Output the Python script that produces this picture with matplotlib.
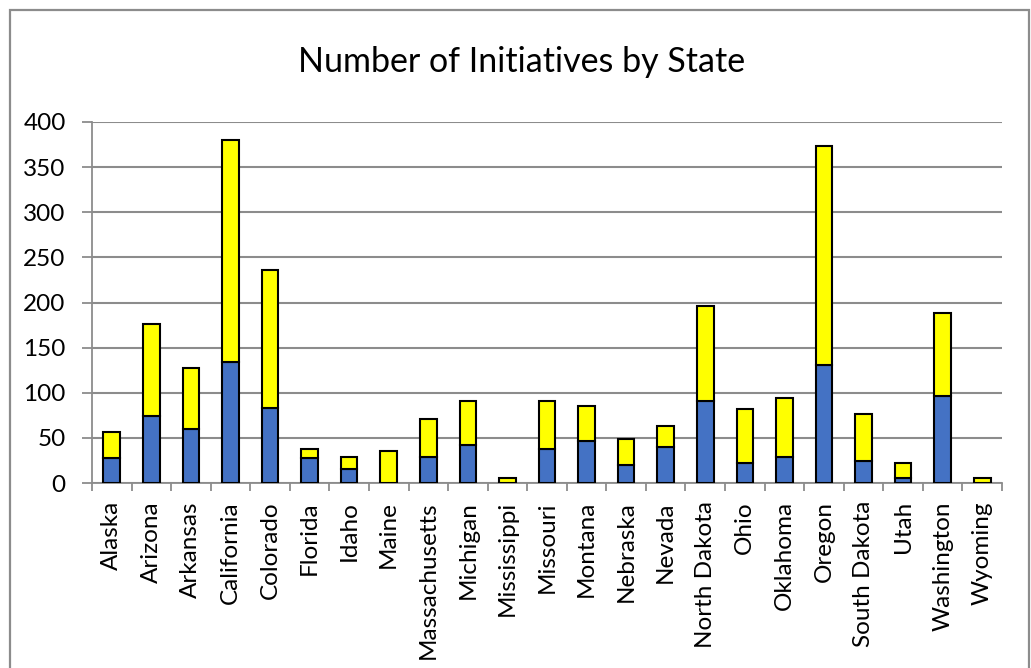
import matplotlib
matplotlib.use("Agg")
import matplotlib.pyplot as plt
from matplotlib.patches import Rectangle
import numpy as np

states = ["Alaska", "Arizona", "Arkansas", "California", "Colorado", "Florida",
          "Idaho", "Maine", "Massachusetts", "Michigan", "Mississippi", "Missouri",
          "Montana", "Nebraska", "Nevada", "North Dakota", "Ohio", "Oklahoma",
          "Oregon", "South Dakota", "Utah", "Washington", "Wyoming"]
# lower (blue) part and total height of each stacked bar
blue = [28, 74, 60, 134, 83, 28, 15, 0, 29, 42, 0, 38,
        46, 20, 40, 91, 22, 29, 131, 24, 6, 96, 0]
total = [56, 176, 127, 380, 236, 38, 29, 35, 71, 91, 6, 91,
         85, 49, 63, 196, 82, 94, 373, 76, 22, 188, 6]
yellow = [t - b for t, b in zip(total, blue)]
yticks = [0, 50, 100, 150, 200, 250, 300, 350, 400]

plt.rcParams['font.family'] = ['Lato', 'DejaVu Sans']

fig = plt.figure(figsize=(10.31, 6.68), dpi=100)
ax = fig.add_axes([92 / 1031, 185 / 668, 910 / 1031, 361 / 668])

x = np.arange(len(states))
w = 0.42
ax.bar(x, blue, w, color='#4472C4', edgecolor='black', linewidth=1.5, zorder=3)
ax.bar(x, yellow, w, bottom=blue, color='#FFFF00', edgecolor='black',
       linewidth=1.5, zorder=3)

ax.set_xlim(-0.5, len(states) - 0.5)
ax.set_ylim(0, 400)
ax.set_yticks(yticks)
ax.yaxis.grid(True, color='#8c8c8c', linewidth=1.5, zorder=0)
ax.set_axisbelow(True)

ax.set_xticks(x)
ax.set_xticklabels(states, rotation=90, fontsize=17.5)
ax.set_xticks(np.arange(len(states) + 1) - 0.5, minor=True)
ax.tick_params(axis='x', which='major', length=0, pad=13)
ax.tick_params(axis='x', which='minor', length=6, width=1.3, color='#8c8c8c')
ax.tick_params(axis='y', length=7, width=1.3, color='#8c8c8c', labelsize=17.5, pad=12)

for s in ['top', 'right']:
    ax.spines[s].set_visible(False)
for s in ['left', 'bottom']:
    ax.spines[s].set_color('#8c8c8c')
    ax.spines[s].set_linewidth(1.3)

fig.text(522 / 1031, 1 - 62 / 668, "Number of Initiatives by State",
         ha='center', va='center', fontsize=24.5)

# outer chart border
fig.patches.append(Rectangle((10 / 1031, -0.02), 1019 / 1031, 658 / 668 + 0.02,
                             transform=fig.transFigure, fill=False,
                             edgecolor='#8c8c8c', linewidth=1.6))

fig.savefig("out.png", dpi=100)
